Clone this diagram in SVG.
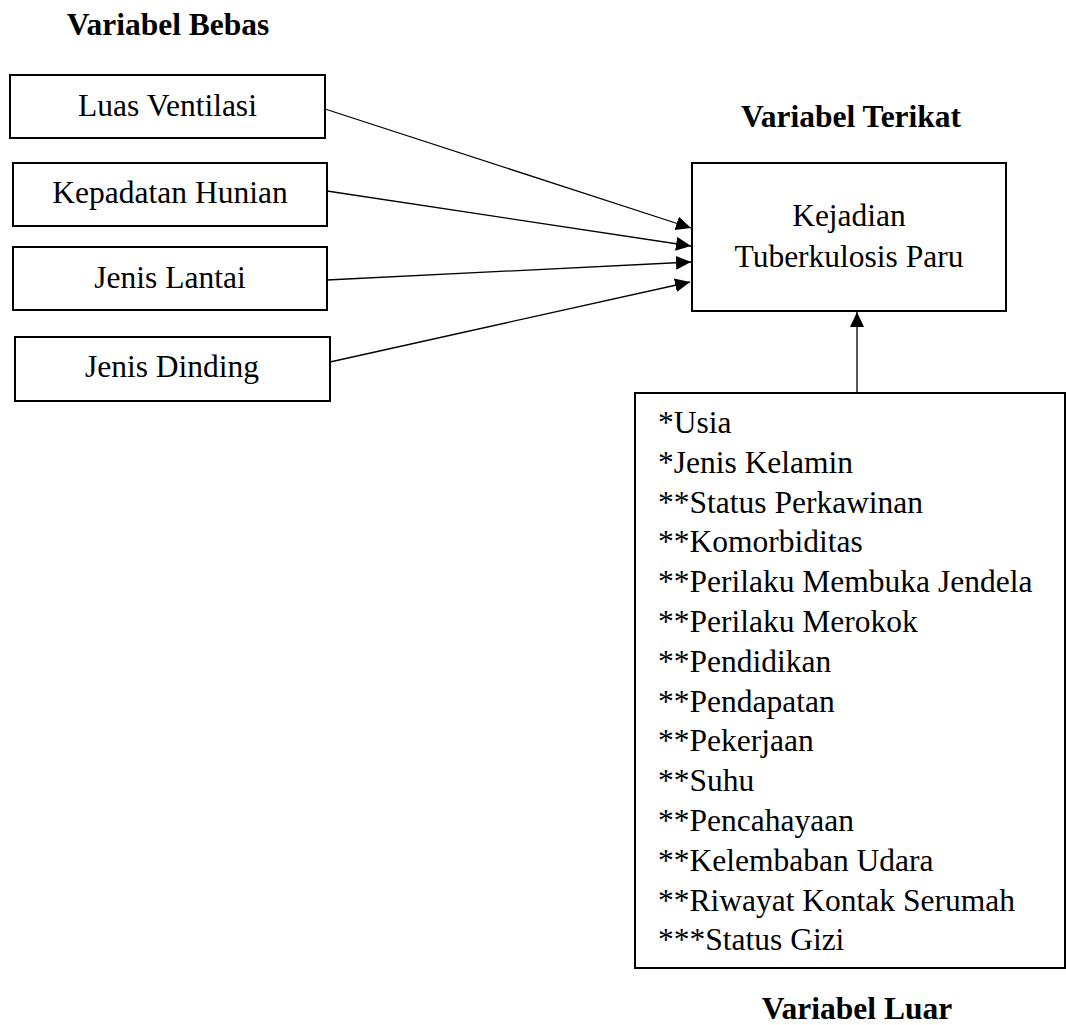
<svg xmlns="http://www.w3.org/2000/svg" width="1066" height="1025" viewBox="0 0 1066 1025">
<style>
.box{fill:#fff;stroke:#000;stroke-width:2}
.t{font-family:"Liberation Serif","Times New Roman",serif;font-size:31.5px;fill:#000}
.c{text-anchor:middle}
.b{font-weight:bold}
.ln{stroke:#000;stroke-width:1.3;fill:none}
</style>
<defs>
<marker id="ah" markerUnits="userSpaceOnUse" markerWidth="16" markerHeight="15" refX="15" refY="7" orient="auto">
<path d="M0,0 L15,7 L0,14 z" fill="#000"/>
</marker>
</defs>
<rect width="1066" height="1025" fill="#fff"/>
<text class="t c b" x="168" y="35">Variabel Bebas</text>
<text class="t c b" x="851" y="127">Variabel Terikat</text>
<text class="t c b" x="857" y="1019">Variabel Luar</text>
<g id="connectors">
<line class="ln" x1="325" y1="109" x2="691" y2="228" marker-end="url(#ah)"/>
<line class="ln" x1="327" y1="191" x2="691" y2="246" marker-end="url(#ah)"/>
<line class="ln" x1="327" y1="280" x2="691" y2="262" marker-end="url(#ah)"/>
<line class="ln" x1="330" y1="362" x2="690" y2="282" marker-end="url(#ah)"/>
<line class="ln" x1="857" y1="393" x2="857" y2="312" marker-end="url(#ah)"/>
</g>
<g id="luas">
<rect class="box" x="10" y="75" width="315" height="63"/>
<text class="t c" x="167.5" y="116">Luas Ventilasi</text>
</g>
<g id="kepadatan">
<rect class="box" x="13" y="163" width="314" height="63"/>
<text class="t c" x="170" y="203">Kepadatan Hunian</text>
</g>
<g id="lantai">
<rect class="box" x="13" y="247" width="314" height="63"/>
<text class="t c" x="170" y="288">Jenis Lantai</text>
</g>
<g id="dinding">
<rect class="box" x="15" y="337" width="315" height="64"/>
<text class="t c" x="172" y="377">Jenis Dinding</text>
</g>
<g id="kejadian">
<rect class="box" x="692" y="163" width="314" height="148"/>
<text class="t c" x="849" y="226">Kejadian</text>
<text class="t c" x="849" y="267">Tuberkulosis Paru</text>
</g>
<g id="luar">
<rect class="box" x="635" y="393" width="430" height="575"/>
<text class="t" x="658" y="433">*Usia</text>
<text class="t" x="658" y="472.8">*Jenis Kelamin</text>
<text class="t" x="658" y="512.6">**Status Perkawinan</text>
<text class="t" x="658" y="552.4">**Komorbiditas</text>
<text class="t" x="658" y="592.2">**Perilaku Membuka Jendela</text>
<text class="t" x="658" y="632">**Perilaku Merokok</text>
<text class="t" x="658" y="671.8">**Pendidikan</text>
<text class="t" x="658" y="711.6">**Pendapatan</text>
<text class="t" x="658" y="751.4">**Pekerjaan</text>
<text class="t" x="658" y="791.2">**Suhu</text>
<text class="t" x="658" y="831">**Pencahayaan</text>
<text class="t" x="658" y="870.8">**Kelembaban Udara</text>
<text class="t" x="658" y="910.6">**Riwayat Kontak Serumah</text>
<text class="t" x="658" y="950.4">***Status Gizi</text>
</g>
</svg>
